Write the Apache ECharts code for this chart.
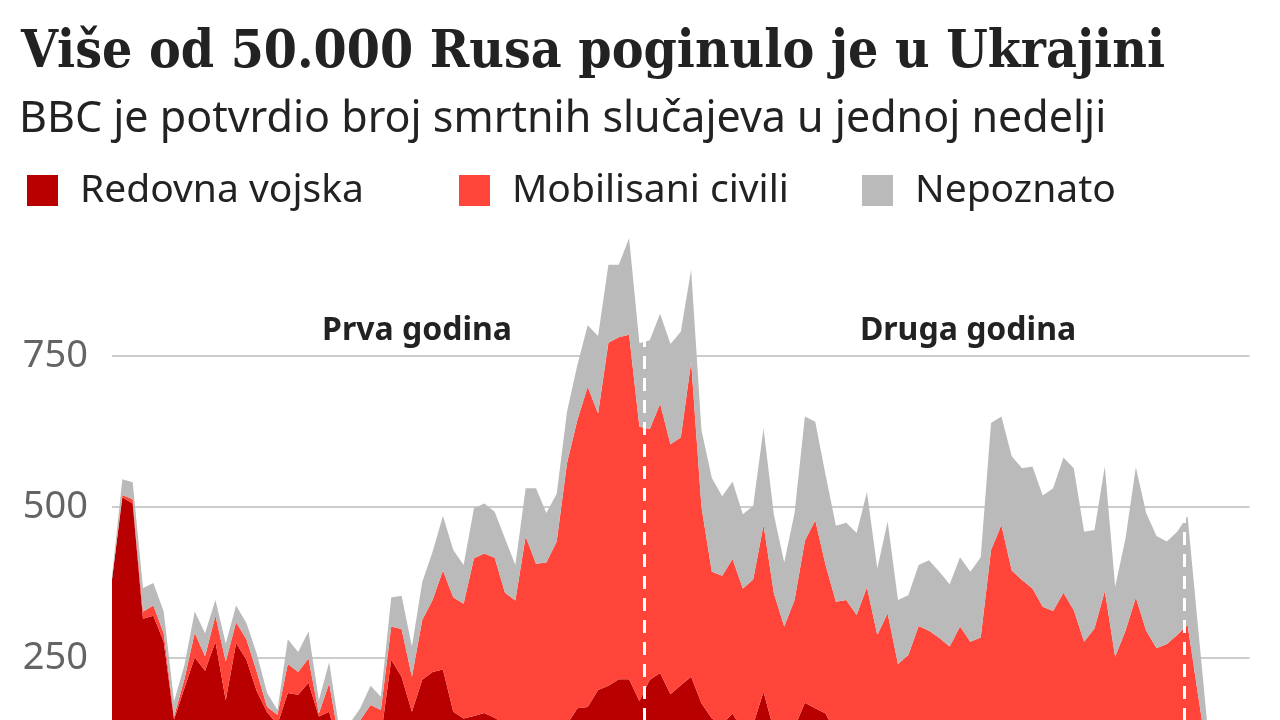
<!DOCTYPE html>
<html>
<head>
<meta charset="utf-8">
<script src="https://cdn.jsdelivr.net/npm/echarts@6/dist/echarts.min.js"></script>
<style>
html,body{margin:0;padding:0;background:#fff;overflow:hidden}
#chart{width:1280px;height:720px}
</style>
</head>
<body>
<div id="chart"></div>
<script>
// Weekly confirmed deaths (week index 0 = start of invasion)
const regular = [380,516,506,315,320,277,148,200,251,229,277,180,275,247,195,160,140,192,189,209,153,161,95,100,110,125,120,247,219,161,214,227,231,161,150,154,159,151,140,130,135,130,125,135,140,167,169,197,204,215,215,179,214,225,190,205,219,175,150,140,158,130,140,194,130,120,135,176,167,158,125,120,115,125,110,115,105,110,115,110,105,100,110,105,110,120,125,115,110,110,105,100,110,100,95,100,110,90,95,105,95,90,90,95,100,70,30];
const mobilised = [0,4,7,12,17,14,5,15,41,24,43,64,34,34,32,9,16,48,38,40,5,47,15,20,37,47,44,55,79,58,99,119,164,189,190,261,264,265,218,215,316,276,283,308,433,477,530,458,568,566,570,454,415,446,414,410,521,325,243,246,256,235,240,276,227,182,211,268,311,246,218,226,206,242,178,209,135,145,188,185,178,169,192,172,174,309,345,280,269,255,230,228,248,229,182,199,251,162,200,245,200,176,183,193,205,121,48];
const unknown = [5,26,28,39,37,36,25,23,35,38,26,30,28,27,30,23,8,41,33,45,22,35,20,22,20,32,22,48,55,50,63,80,90,79,64,83,83,76,90,59,80,125,82,79,85,91,102,128,129,120,160,138,147,149,166,175,153,127,155,132,128,123,122,160,130,106,144,206,163,149,126,128,136,158,110,152,106,99,101,117,110,103,115,116,133,210,180,189,185,202,184,203,224,235,182,163,206,116,153,216,195,186,170,171,180,113,46];
const weekCount = 111; // axis spans 111 weekly slots, data fills the first ones
const yearBoundaries = [51.5, 103.7];
const yearLabels = ['Prva godina', 'Druga godina'];
const yTickValues = [250, 500, 750];
const seriesNames = ['Redovna vojska', 'Mobilisani civili', 'Nepoznato'];
const colors = ['#b80000', '#ff4539', '#bababa'];

const weeks = Array.from({length: weekCount}, (_, i) => String(i));
const totalAt = x => {
  const i = Math.round(x);
  return regular[i] + mobilised[i] + unknown[i];
};

const chart = echarts.init(document.getElementById('chart'), null, {renderer: 'canvas'});

const sans = "'Noto Sans', 'Open Sans', sans-serif";
const areaSeries = (name, data, color) => ({
  name: name,
  type: 'line',
  stack: 'total',
  data: data,
  xAxisIndex: 0,
  symbol: 'none',
  showSymbol: false,
  smooth: false,
  lineStyle: {width: 0},
  itemStyle: {color: color},
  areaStyle: {color: color, opacity: 1},
  emphasis: {disabled: true},
  animation: false
});

const legendItem = (name, left) => ({
  data: [name],
  left: left,
  top: 171,
  padding: 0,
  itemWidth: 31,
  itemHeight: 31,
  icon: 'rect',
  selectedMode: false,
  textStyle: {fontFamily: sans, fontSize: 39, lineHeight: 31, color: '#222', padding: [0, 0, 0, 17]}
});

chart.setOption({
  animation: false,
  backgroundColor: '#ffffff',
  color: colors,
  title: [
    {
      text: 'Više od 50.000 Rusa poginulo je u Ukrajini',
      left: 21, top: 27, padding: 0,
      textStyle: {fontFamily: "'DejaVu Serif Condensed', 'Liberation Serif', serif", fontWeight: 'bold', fontSize: 53, lineHeight: 53, color: '#222'}
    },
    {
      text: 'BBC je potvrdio broj smrtnih slučajeva u jednoj nedelji',
      left: 19, top: 98, padding: 0,
      textStyle: {fontFamily: sans, fontWeight: 'normal', fontSize: 43, lineHeight: 43, color: '#222'}
    }
  ],
  legend: [
    legendItem(seriesNames[0], 27),
    legendItem(seriesNames[1], 459),
    legendItem(seriesNames[2], 862)
  ],
  grid: {left: 112, top: 205, width: 1137.6, height: 604, outerBoundsMode: 'none', containLabel: false},
  xAxis: [
    {
      type: 'category', data: weeks, boundaryGap: false,
      axisLine: {show: false}, axisTick: {show: false}, axisLabel: {show: false}, splitLine: {show: false}
    },
    {
      type: 'value', min: 0, max: weekCount - 1, show: false,
      axisLine: {show: false}, axisTick: {show: false}, axisLabel: {show: false}, splitLine: {show: false}
    }
  ],
  yAxis: {
    type: 'value', min: 0, max: 1000, interval: 250,
    axisLine: {show: false}, axisTick: {show: false},
    axisLabel: {
      showMaxLabel: false,
      fontFamily: sans, fontSize: 38, color: '#646464', margin: 24,
      formatter: v => (yTickValues.indexOf(v) >= 0 ? String(v) : '')
    },
    splitLine: {show: true, showMaxLine: false, lineStyle: {color: '#cccccc', width: 2}}
  },
  graphic: [
    {type: 'text', x: 417, y: 331, silent: true,
     style: {text: yearLabels[0], fill: '#222', font: "bold 32px 'Noto Sans', sans-serif", textAlign: 'center', textVerticalAlign: 'middle'}},
    {type: 'text', x: 968, y: 331, silent: true,
     style: {text: yearLabels[1], fill: '#222', font: "bold 32px 'Noto Sans', sans-serif", textAlign: 'center', textVerticalAlign: 'middle'}}
  ],
  series: [
    areaSeries(seriesNames[0], regular, colors[0]),
    areaSeries(seriesNames[1], mobilised, colors[1]),
    areaSeries(seriesNames[2], unknown, colors[2]),
    {
      name: 'yearMarks',
      type: 'line',
      xAxisIndex: 1,
      data: [],
      silent: true,
      animation: false,
      markLine: {
        silent: true,
        symbol: 'none',
        label: {show: false},
        lineStyle: {color: '#ffffff', width: 3, type: [13, 9], opacity: 1},
        data: yearBoundaries.map(x => [{coord: [x, 0]}, {coord: [x, totalAt(x)]}])
      }
    }
  ]
});
</script>
</body>
</html>
